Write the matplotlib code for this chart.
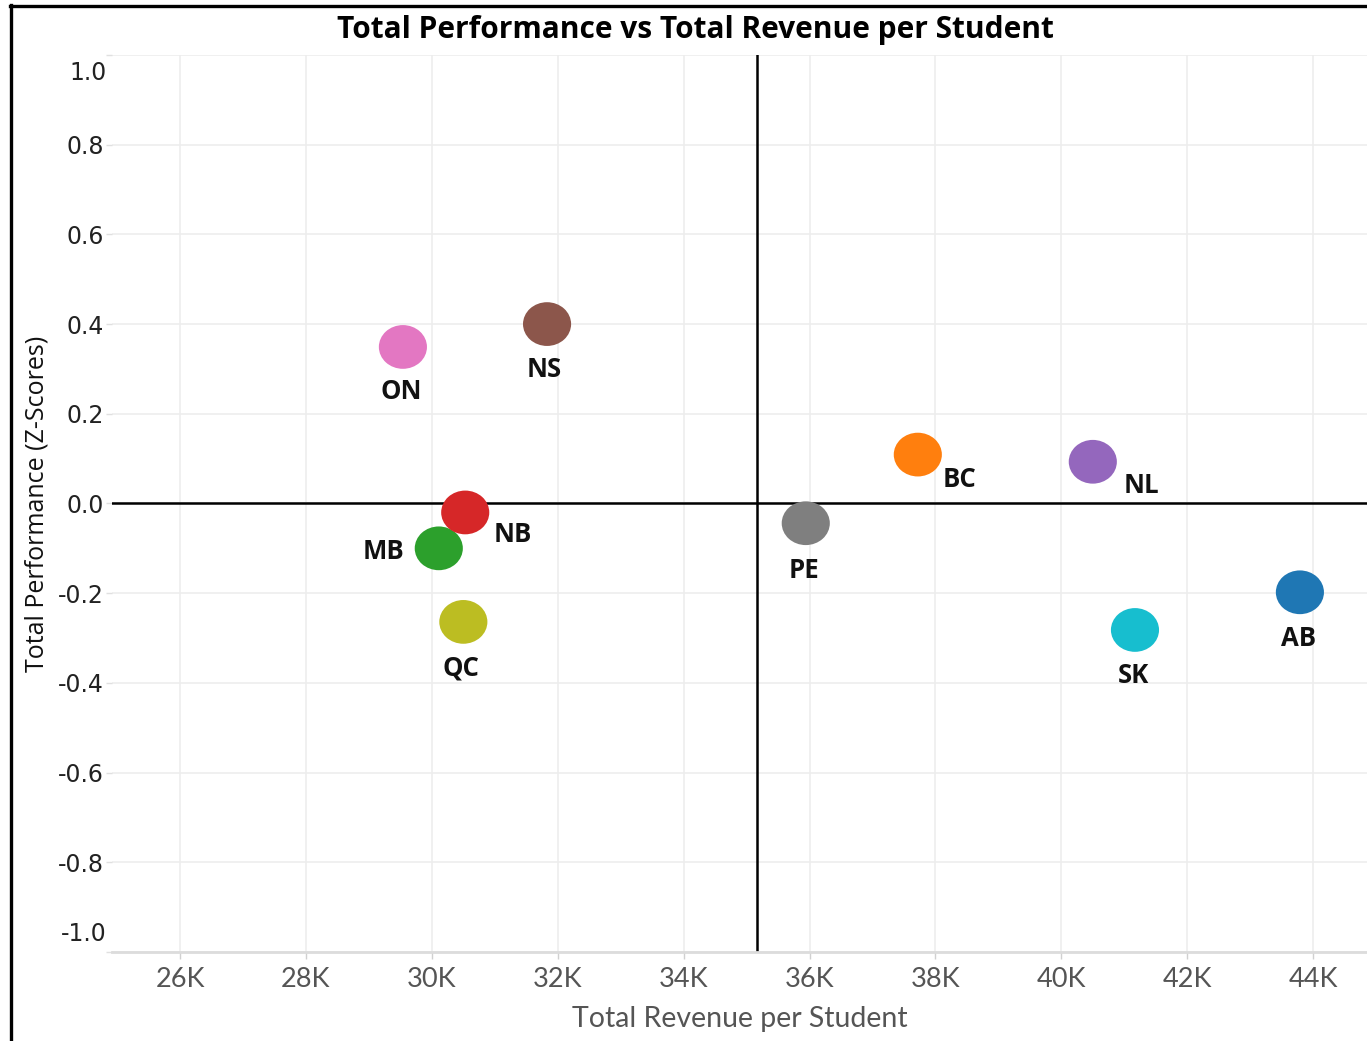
import matplotlib.pyplot as plt
from matplotlib.lines import Line2D
from matplotlib.path import Path
from matplotlib.transforms import Affine2D
from matplotlib.ticker import FuncFormatter

# provinces, revenue per student and performance z-scores
provinces = ['AB', 'BC', 'MB', 'NB', 'NL', 'NS', 'ON', 'PE', 'QC', 'SK']
revenue = [43790, 37720, 30110, 30530, 40500, 31830, 29540, 35940, 30500, 41170]
performance = [-0.198, 0.109, -0.100, -0.020, 0.093, 0.400, 0.349, -0.044, -0.264, -0.282]
colors = ['#1f77b4', '#ff7f0e', '#2ca02c', '#d62728', '#9467bd',
          '#8c564b', '#e377c2', '#7f7f7f', '#bcbd22', '#17becf']

x_ticks = [26000, 28000, 30000, 32000, 34000, 36000, 38000, 40000, 42000, 44000]
y_ticks = [-1.0, -0.8, -0.6, -0.4, -0.2, 0.0, 0.2, 0.4, 0.6, 0.8, 1.0]

# label offsets in points (dx, dy)
label_offsets = {
    'AB': (-1, -33), 'BC': (30, -18), 'MB': (-40, -2), 'NB': (34, -16),
    'NL': (35, -17), 'NS': (-2, -33), 'ON': (-1, -32), 'PE': (-1, -34),
    'QC': (-2, -33), 'SK': (-1, -33),
}

fig = plt.figure(figsize=(13.67, 10.41), dpi=100)
ax = fig.add_axes([0.082, 0.0855, 0.918, 0.8617])

ax.set_xlim(24920, 44856)
ax.set_ylim(-1.0, 1.0)
ax.set_xticks(x_ticks)
ax.set_yticks(y_ticks)
ax.xaxis.set_major_formatter(FuncFormatter(lambda v, p: f'{int(v / 1000)}K'))
# end labels are drawn separately, nudged inward like the original
ax.yaxis.set_major_formatter(FuncFormatter(lambda v, p: '' if abs(v) > 0.99 else f'{v:.1f}'))
ax.grid(True, color='#ededed', linewidth=1.2)
ax.set_axisbelow(True)

for s in ['top', 'right', 'left']:
    ax.spines[s].set_visible(False)
ax.spines['bottom'].set_color('#dcdcdc')
ax.spines['bottom'].set_linewidth(2)

ax.tick_params(axis='x', colors='#d0d0d0', length=5, width=1, labelcolor='#555555',
               labelsize=19.5, pad=6)
ax.tick_params(axis='y', colors='#e0e0e0', length=4, width=1, labelcolor='#222222',
               labelsize=17, pad=2)
for lab in ax.get_xticklabels():
    lab.set_fontfamily('Lato')
ax.text(-0.004, 0.98, '1.0', transform=ax.transAxes, ha='right', va='center',
        fontsize=17, color='#222222')
ax.text(-0.004, 0.02, '-1.0', transform=ax.transAxes, ha='right', va='center',
        fontsize=17, color='#222222')

# quadrant lines
ax.axhline(0, color='black', linewidth=1.8, zorder=2)
ax.axvline(sum(revenue) / len(revenue), color='black', linewidth=1.8, zorder=2)

ellipse = Path.unit_circle().transformed(Affine2D().scale(1.1, 1.0))
ax.scatter(revenue, performance, s=1200, c=colors, marker=ellipse,
           edgecolors='none', zorder=3)
for p, x, y in zip(provinces, revenue, performance):
    dx, dy = label_offsets[p]
    ax.annotate(p, (x, y), xytext=(dx, dy), textcoords='offset points',
                ha='center', va='center', fontsize=18.5, fontweight='bold',
                fontfamily='Open Sans', color='#111111', zorder=4)

ax.set_title('Total Performance vs Total Revenue per Student', fontsize=21.5,
             fontweight='bold', fontfamily='Open Sans', pad=12, x=0.5 - 0.035)
ax.set_xlabel('Total Revenue per Student', fontsize=20.5, color='#555555',
              fontfamily='Lato', labelpad=10)
ax.set_ylabel('Total Performance (Z-Scores)', fontsize=18, color='#111111',
              fontfamily='Open Sans', labelpad=6)

# screenshot frame
fig.add_artist(Line2D([11 / 1367, 11 / 1367], [0, 1 - 5 / 1041], transform=fig.transFigure,
                      color='black', linewidth=2.4))
fig.add_artist(Line2D([10 / 1367, 1], [1 - 6 / 1041, 1 - 6 / 1041], transform=fig.transFigure,
                      color='black', linewidth=2.4))

fig.savefig('out.png', dpi=100)
